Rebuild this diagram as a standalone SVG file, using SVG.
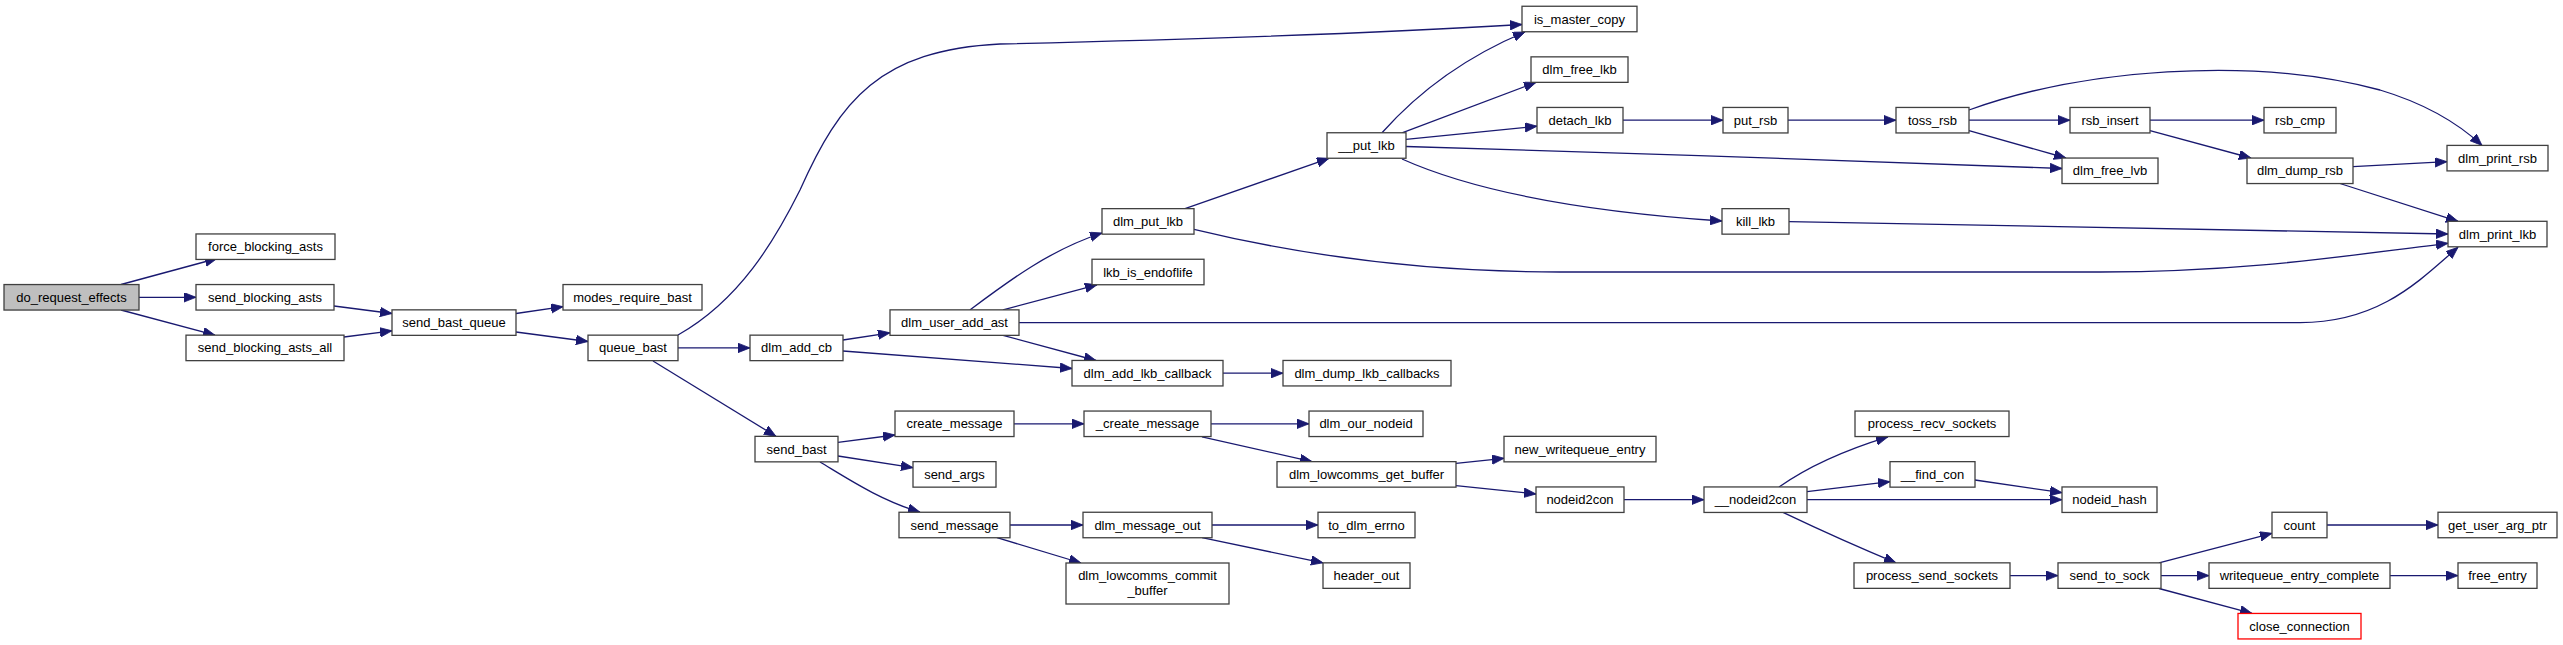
<svg xmlns="http://www.w3.org/2000/svg" width="2563" height="645" viewBox="0 0 2563 645">
<style>
.n rect{fill:#ffffff;stroke:#404040;stroke-width:1.3}
.n.root rect{fill:#bfbfbf}
.n.red rect{stroke:#ff0000}
text{font-family:"Liberation Sans",Arial,Helvetica,sans-serif;font-size:13px;text-anchor:middle;fill:#000000}
.e path{fill:none;stroke:#191970;stroke-width:1.3;marker-end:url(#a)}
</style>
<defs>
<marker id="a" markerUnits="userSpaceOnUse" markerWidth="13" markerHeight="10" refX="12" refY="4.75" orient="auto">
<path d="M0,0 L12,4.75 L0,9.5 z" fill="#191970" stroke="#191970" stroke-width="0.8"/>
</marker>
</defs>
<rect width="2563" height="645" fill="#ffffff"/>
<g id="edges" class="e">
<path d="M121,284.5 L217,258.5"/>
<path d="M139,297.3 L196,297.3"/>
<path d="M121,310 L215,335.2"/>
<path d="M334,306 L392,313.5"/>
<path d="M344,337 L392,330.8"/>
<path d="M516,313.5 L563,306.7"/>
<path d="M516,332 L588,341.5"/>
<path d="M678,335 C740,300 775,240 800,190 C840,100 880,50 1000,44 C1250,38 1400,32 1522,24.5"/>
<path d="M678,347.9 L750,347.9"/>
<path d="M653,361 L776,436.4"/>
<path d="M843,340 L890,332.8"/>
<path d="M843,351 L1072,368.5"/>
<path d="M970,309.9 C1010,280 1050,250 1102,233"/>
<path d="M1003,309.9 L1097,284.8"/>
<path d="M1003,335.3 L1096,360.5"/>
<path d="M1019,322.6 L2300,322.6 C2380,322.6 2420,280 2458,247.3"/>
<path d="M1223,373.2 L1283,373.2"/>
<path d="M1185,208.7 L1329,158.3"/>
<path d="M1194,229.3 C1300,255 1420,272 1560,272 L2100,272 C2250,272 2350,255 2448,243.3"/>
<path d="M1382,132.8 C1420,90 1470,55 1525,32"/>
<path d="M1402,132.8 L1536,82.4"/>
<path d="M1406,139.3 L1537,126.2"/>
<path d="M1406,146.5 C1600,152 1900,162 2062,168.5"/>
<path d="M1402,159 C1460,185 1560,210 1722,221"/>
<path d="M1789,221.6 L2448,234"/>
<path d="M1623,120.2 L1723,120.2"/>
<path d="M1788,120.2 L1896,120.2"/>
<path d="M1969,110 C2080,70 2250,55 2380,90 C2430,105 2460,125 2482,145.4"/>
<path d="M1969,120.2 L2070,120.2"/>
<path d="M1969,130.7 L2066,158"/>
<path d="M2150,120.2 L2264,120.2"/>
<path d="M2150,130.7 L2251,158"/>
<path d="M2353,166.7 L2447,161.7"/>
<path d="M2340,183.5 L2458,221.3"/>
<path d="M838,442.3 L895,435"/>
<path d="M838,456 L913,467.7"/>
<path d="M820,462 C850,480 880,500 920,512.2"/>
<path d="M1014,423.8 L1084,423.8"/>
<path d="M1211,423.8 L1309,423.8"/>
<path d="M1202,436.8 L1312,461.6"/>
<path d="M1456,463.3 L1504,458.3"/>
<path d="M1456,485.7 L1536,494"/>
<path d="M1624,499.7 L1704,499.7"/>
<path d="M1779,487 C1810,465 1845,450 1888,436.8"/>
<path d="M1807,491.7 L1890,481.7"/>
<path d="M1807,499.7 L2062,499.7"/>
<path d="M1783,512.4 C1820,530 1860,548 1896,562.8"/>
<path d="M1975,480 L2062,492.7"/>
<path d="M2010,575.6 L2058,575.6"/>
<path d="M2159,562.8 L2272,533.3"/>
<path d="M2161,575.6 L2209,575.6"/>
<path d="M2159,588.5 L2252,613.4"/>
<path d="M2327,525 L2438,525"/>
<path d="M2390,575.6 L2458,575.6"/>
<path d="M1010,525 L1083,525"/>
<path d="M997,537.7 L1081,563"/>
<path d="M1212,525 L1318,525"/>
<path d="M1202,537.7 L1323,562.8"/>
</g>
<g id="do_request_effects" class="n root"><rect x="4" y="284.55" width="135" height="25.5"/><text x="71.5" y="301.8">do_request_effects</text></g>
<g id="force_blocking_asts" class="n"><rect x="196" y="233.95" width="139" height="25.5"/><text x="265.5" y="251.2">force_blocking_asts</text></g>
<g id="send_blocking_asts" class="n"><rect x="196" y="284.55" width="138" height="25.5"/><text x="265" y="301.8">send_blocking_asts</text></g>
<g id="send_blocking_asts_all" class="n"><rect x="186" y="335.15" width="158" height="25.5"/><text x="265" y="352.4">send_blocking_asts_all</text></g>
<g id="send_bast_queue" class="n"><rect x="392" y="309.85" width="124" height="25.5"/><text x="454" y="327.1">send_bast_queue</text></g>
<g id="modes_require_bast" class="n"><rect x="563" y="284.55" width="139" height="25.5"/><text x="632.5" y="301.8">modes_require_bast</text></g>
<g id="queue_bast" class="n"><rect x="588" y="335.15" width="90" height="25.5"/><text x="633" y="352.4">queue_bast</text></g>
<g id="dlm_add_cb" class="n"><rect x="750" y="335.15" width="93" height="25.5"/><text x="796.5" y="352.4">dlm_add_cb</text></g>
<g id="send_bast" class="n"><rect x="755" y="436.35" width="83" height="25.5"/><text x="796.5" y="453.6">send_bast</text></g>
<g id="dlm_user_add_ast" class="n"><rect x="890" y="309.85" width="129" height="25.5"/><text x="954.5" y="327.1">dlm_user_add_ast</text></g>
<g id="create_message" class="n"><rect x="895" y="411.05" width="119" height="25.5"/><text x="954.5" y="428.3">create_message</text></g>
<g id="send_args" class="n"><rect x="913" y="461.65" width="83" height="25.5"/><text x="954.5" y="478.9">send_args</text></g>
<g id="send_message" class="n"><rect x="899" y="512.25" width="111" height="25.5"/><text x="954.5" y="529.5">send_message</text></g>
<g id="dlm_put_lkb" class="n"><rect x="1102" y="208.65" width="92" height="25.5"/><text x="1148" y="225.9">dlm_put_lkb</text></g>
<g id="lkb_is_endoflife" class="n"><rect x="1092" y="259.25" width="112" height="25.5"/><text x="1148" y="276.5">lkb_is_endoflife</text></g>
<g id="dlm_add_lkb_callback" class="n"><rect x="1072" y="360.45" width="151" height="25.5"/><text x="1147.5" y="377.7">dlm_add_lkb_callback</text></g>
<g id="_create_message" class="n"><rect x="1084" y="411.05" width="127" height="25.5"/><text x="1147.5" y="428.3">_create_message</text></g>
<g id="dlm_message_out" class="n"><rect x="1083" y="512.25" width="129" height="25.5"/><text x="1147.5" y="529.5">dlm_message_out</text></g>
<g id="dlm_lowcomms_commit_buffer" class="n"><rect x="1066" y="563" width="163" height="41"/><text x="1147.5" y="579.5">dlm_lowcomms_commit</text><text x="1147.5" y="594.5">_buffer</text></g>
<g id="__put_lkb" class="n"><rect x="1327" y="132.75" width="79" height="25.5"/><text x="1366.5" y="150">__put_lkb</text></g>
<g id="dlm_dump_lkb_callbacks" class="n"><rect x="1283" y="360.45" width="168" height="25.5"/><text x="1367" y="377.7">dlm_dump_lkb_callbacks</text></g>
<g id="dlm_our_nodeid" class="n"><rect x="1309" y="411.05" width="114" height="25.5"/><text x="1366" y="428.3">dlm_our_nodeid</text></g>
<g id="dlm_lowcomms_get_buffer" class="n"><rect x="1277" y="461.65" width="179" height="25.5"/><text x="1366.5" y="478.9">dlm_lowcomms_get_buffer</text></g>
<g id="to_dlm_errno" class="n"><rect x="1318" y="512.25" width="97" height="25.5"/><text x="1366.5" y="529.5">to_dlm_errno</text></g>
<g id="header_out" class="n"><rect x="1323" y="562.85" width="87" height="25.5"/><text x="1366.5" y="580.1">header_out</text></g>
<g id="is_master_copy" class="n"><rect x="1522" y="6.25" width="115" height="25.5"/><text x="1579.5" y="23.5">is_master_copy</text></g>
<g id="dlm_free_lkb" class="n"><rect x="1531" y="56.85" width="97" height="25.5"/><text x="1579.5" y="74.1">dlm_free_lkb</text></g>
<g id="detach_lkb" class="n"><rect x="1537" y="107.45" width="86" height="25.5"/><text x="1580" y="124.7">detach_lkb</text></g>
<g id="new_writequeue_entry" class="n"><rect x="1504" y="436.35" width="152" height="25.5"/><text x="1580" y="453.6">new_writequeue_entry</text></g>
<g id="nodeid2con" class="n"><rect x="1536" y="486.95" width="88" height="25.5"/><text x="1580" y="504.2">nodeid2con</text></g>
<g id="put_rsb" class="n"><rect x="1723" y="107.45" width="65" height="25.5"/><text x="1755.5" y="124.7">put_rsb</text></g>
<g id="kill_lkb" class="n"><rect x="1722" y="208.65" width="67" height="25.5"/><text x="1755.5" y="225.9">kill_lkb</text></g>
<g id="__nodeid2con" class="n"><rect x="1704" y="486.95" width="103" height="25.5"/><text x="1755.5" y="504.2">__nodeid2con</text></g>
<g id="toss_rsb" class="n"><rect x="1896" y="107.45" width="73" height="25.5"/><text x="1932.5" y="124.7">toss_rsb</text></g>
<g id="process_recv_sockets" class="n"><rect x="1855" y="411.05" width="154" height="25.5"/><text x="1932" y="428.3">process_recv_sockets</text></g>
<g id="__find_con" class="n"><rect x="1890" y="461.65" width="85" height="25.5"/><text x="1932.5" y="478.9">__find_con</text></g>
<g id="process_send_sockets" class="n"><rect x="1854" y="562.85" width="156" height="25.5"/><text x="1932" y="580.1">process_send_sockets</text></g>
<g id="rsb_insert" class="n"><rect x="2070" y="107.45" width="80" height="25.5"/><text x="2110" y="124.7">rsb_insert</text></g>
<g id="dlm_free_lvb" class="n"><rect x="2062" y="158.05" width="96" height="25.5"/><text x="2110" y="175.3">dlm_free_lvb</text></g>
<g id="nodeid_hash" class="n"><rect x="2062" y="486.95" width="95" height="25.5"/><text x="2109.5" y="504.2">nodeid_hash</text></g>
<g id="send_to_sock" class="n"><rect x="2058" y="562.85" width="103" height="25.5"/><text x="2109.5" y="580.1">send_to_sock</text></g>
<g id="rsb_cmp" class="n"><rect x="2264" y="107.45" width="72" height="25.5"/><text x="2300" y="124.7">rsb_cmp</text></g>
<g id="dlm_dump_rsb" class="n"><rect x="2247" y="158.05" width="106" height="25.5"/><text x="2300" y="175.3">dlm_dump_rsb</text></g>
<g id="count" class="n"><rect x="2272" y="512.25" width="55" height="25.5"/><text x="2299.5" y="529.5">count</text></g>
<g id="writequeue_entry_complete" class="n"><rect x="2209" y="562.85" width="181" height="25.5"/><text x="2299.5" y="580.1">writequeue_entry_complete</text></g>
<g id="close_connection" class="n red"><rect x="2238" y="613.45" width="123" height="25.5"/><text x="2299.5" y="630.7">close_connection</text></g>
<g id="dlm_print_rsb" class="n"><rect x="2447" y="145.4" width="101" height="25.5"/><text x="2497.5" y="162.65">dlm_print_rsb</text></g>
<g id="dlm_print_lkb" class="n"><rect x="2448" y="221.3" width="99" height="25.5"/><text x="2497.5" y="238.55">dlm_print_lkb</text></g>
<g id="get_user_arg_ptr" class="n"><rect x="2438" y="512.25" width="119" height="25.5"/><text x="2497.5" y="529.5">get_user_arg_ptr</text></g>
<g id="free_entry" class="n"><rect x="2458" y="562.85" width="79" height="25.5"/><text x="2497.5" y="580.1">free_entry</text></g>
</svg>
